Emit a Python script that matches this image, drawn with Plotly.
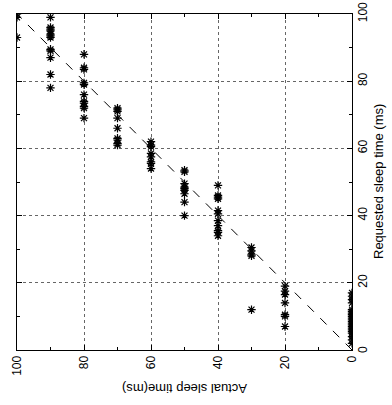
import plotly.graph_objects as go

# Actual sleep time (ms) columns and the requested times observed for each
actual_levels = [100, 90, 80, 70, 60, 50, 40, 30, 20, 0]
requested_by_actual = {
    100: [100, 99, 93],
    90: [99, 96, 95.5, 95, 94, 93.5, 93, 89.5, 89, 87, 82, 78],
    80: [88, 84, 83.5, 79.5, 79, 76, 74, 73.5, 72.5, 72, 69],
    70: [72, 71.5, 71, 69, 66, 63, 62.5, 61.5, 61],
    60: [62, 61, 60.5, 58.5, 57.5, 56, 55.5, 54],
    50: [53.5, 53, 49.5, 48.5, 48, 47.5, 46.5, 44, 40],
    40: [49, 46, 45.5, 45, 41.5, 40.5, 38.5, 37, 35.5, 35, 34],
    30: [30.5, 29.5, 28.5, 28, 12],
    20: [19, 17.5, 16.5, 14, 10.5, 10, 7],
    0: [17, 16, 15, 14, 12, 11.5, 11, 10.5, 10, 9.5, 9, 8.5, 8, 7.5, 7,
        6.5, 6, 5.5, 5, 4, 3, 2],
}
diag_actual = [0, 100]
diag_requested = [0, 100]
tick_vals = [0, 20, 40, 60, 80, 100]

xs, ys = [], []
for a in actual_levels:
    for r in requested_by_actual[a]:
        xs.append(a)
        ys.append(r)

font = dict(family="Liberation Sans, Arial, sans-serif", size=12, color="black")

fig = go.Figure()
fig.add_trace(go.Scatter(
    x=diag_actual, y=diag_requested, mode="lines",
    line=dict(color="black", width=1, dash="dash"), hoverinfo="skip"))
fig.add_trace(go.Scatter(
    x=xs, y=ys, mode="markers",
    marker=dict(symbol="asterisk-open", size=7, color="black",
                line=dict(color="black", width=1.2))))

axis_common = dict(
    range=[0, 100], tickvals=tick_vals, ticks="inside", ticklen=5,
    tickcolor="black", showline=True, linecolor="black", linewidth=1,
    mirror="ticks", showgrid=True, gridcolor="#666666", griddash="dot",
    gridwidth=1, zeroline=False, tickangle=-90, tickfont=font,
    automargin=False, ticklabeloverflow="allow",
    minor=dict(dtick=10, ticks="inside", ticklen=3, tickcolor="black",
               showgrid=False),
)

fig.update_xaxes(**axis_common)
fig.update_xaxes(range=[100, 0])
fig.update_yaxes(**axis_common)
fig.update_yaxes(side="right", tickvals=tick_vals[1:])

# the right-axis "0" label (plotly drops it at the shared corner)
fig.add_annotation(text=str(tick_vals[0]), xref="paper", yref="paper",
                   x=1.0, xshift=11, y=0.0, xanchor="center",
                   yanchor="middle", showarrow=False, textangle=-90,
                   font=font)
fig.add_annotation(text="Actual sleep time(ms)", xref="paper", yref="paper",
                   x=0.5, y=-0.113, yanchor="middle", showarrow=False,
                   textangle=180, font=dict(family=font["family"], size=13,
                                            color="black"))
fig.add_annotation(text="Requested sleep time (ms)", xref="paper", yref="paper",
                   x=1.0, xshift=26, y=0.5, xanchor="center", showarrow=False,
                   textangle=-90, font=dict(family=font["family"], size=13,
                                            color="black"))

fig.update_layout(
    width=392, height=405, showlegend=False,
    margin=dict(l=17, r=40, t=14, b=55),
    paper_bgcolor="white", plot_bgcolor="white",
    font=font,
)

fig.write_html(
    "out.html",
    config={"displayModeBar": False},
    post_script="document.body.style.margin='0px';"
                "document.body.style.overflow='hidden';",
)
